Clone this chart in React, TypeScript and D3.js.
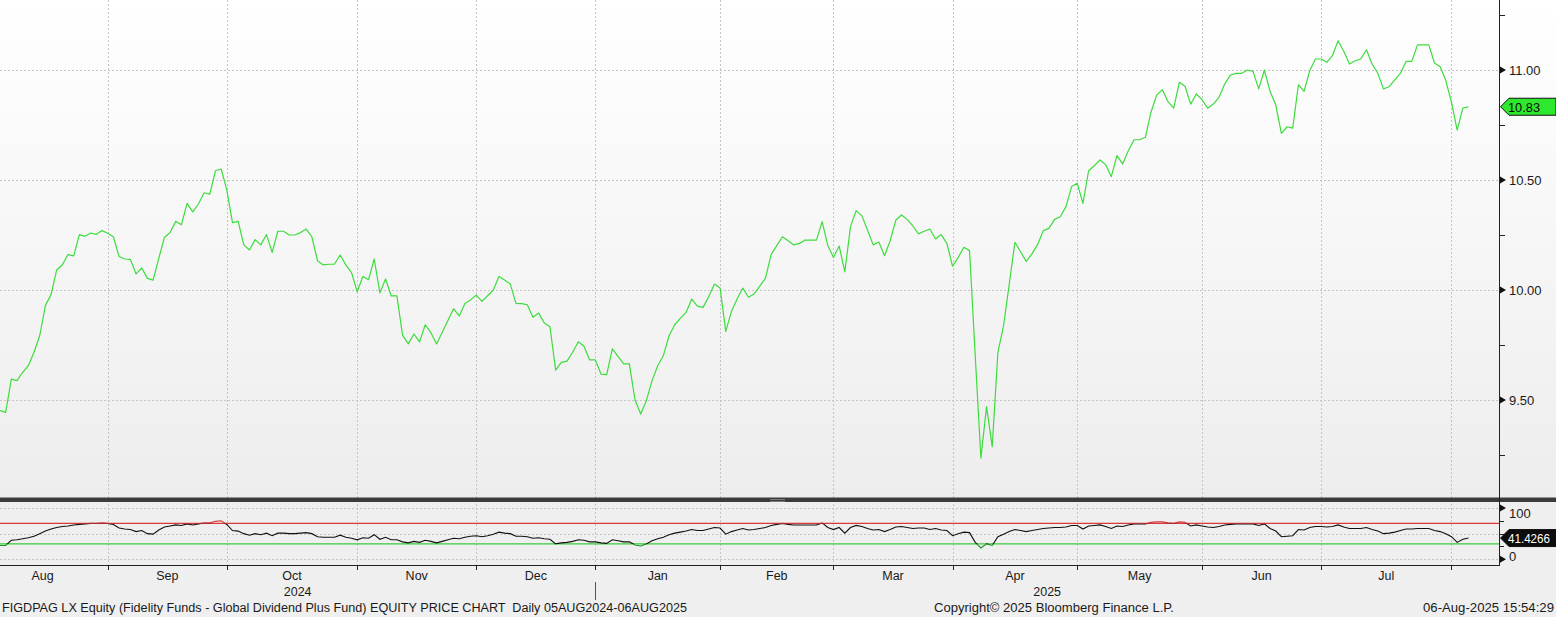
import React, { useRef, useEffect } from "react";
import * as d3 from "d3";

// daily NAV (05 Aug 2024 - 06 Aug 2025)
const prices = [
  9.452, 9.444, 9.595, 9.588, 9.626, 9.656, 9.717, 9.792, 9.929, 9.979,
  10.091, 10.115, 10.161, 10.155, 10.252, 10.244, 10.259, 10.253, 10.27, 10.258,
  10.242, 10.152, 10.141, 10.139, 10.073, 10.1, 10.053, 10.045, 10.144, 10.239,
  10.261, 10.312, 10.297, 10.394, 10.355, 10.391, 10.442, 10.436, 10.542, 10.55,
  10.455, 10.306, 10.312, 10.205, 10.182, 10.229, 10.205, 10.252, 10.171, 10.267,
  10.267, 10.25, 10.25, 10.261, 10.277, 10.242, 10.133, 10.114, 10.117, 10.118,
  10.159, 10.114, 10.079, 9.992, 10.061, 10.047, 10.141, 9.987, 10.05, 9.973,
  9.973, 9.795, 9.755, 9.8, 9.764, 9.842, 9.806, 9.755, 9.808, 9.861,
  9.915, 9.882, 9.939, 9.955, 9.977, 9.948, 9.974, 10.0, 10.061, 10.045,
  10.027, 9.939, 9.938, 9.933, 9.876, 9.895, 9.85, 9.833, 9.636, 9.671,
  9.677, 9.717, 9.765, 9.744, 9.682, 9.682, 9.618, 9.615, 9.732, 9.698,
  9.664, 9.664, 9.5, 9.436, 9.497, 9.588, 9.656, 9.702, 9.792, 9.842,
  9.871, 9.898, 9.959, 9.927, 9.921, 9.97, 10.027, 10.009, 9.812, 9.902,
  9.959, 10.009, 9.967, 9.982, 10.018, 10.053, 10.161, 10.202, 10.242, 10.224,
  10.205, 10.212, 10.227, 10.227, 10.227, 10.311, 10.202, 10.148, 10.2, 10.082,
  10.288, 10.361, 10.338, 10.273, 10.205, 10.218, 10.156, 10.224, 10.318, 10.341,
  10.321, 10.291, 10.255, 10.267, 10.277, 10.232, 10.252, 10.212, 10.108, 10.148,
  10.194, 10.179, 9.702, 9.236, 9.47, 9.288, 9.717, 9.838, 10.027, 10.217,
  10.174, 10.13, 10.164, 10.206, 10.27, 10.28, 10.321, 10.333, 10.379, 10.47,
  10.485, 10.394, 10.542, 10.565, 10.591, 10.57, 10.515, 10.611, 10.573, 10.633,
  10.683, 10.683, 10.694, 10.808, 10.886, 10.911, 10.856, 10.827, 10.944, 10.926,
  10.845, 10.891, 10.865, 10.826, 10.845, 10.876, 10.936, 10.977, 10.985, 10.985,
  11.0, 10.994, 10.914, 11.0, 10.903, 10.842, 10.712, 10.742, 10.736, 10.933,
  10.903, 10.997, 11.05, 11.05, 11.035, 11.065, 11.133, 11.085, 11.027, 11.042,
  11.05, 11.092, 11.027, 10.985, 10.914, 10.924, 10.955, 10.985, 11.039, 11.039,
  11.114, 11.114, 11.114, 11.032, 11.015, 10.952, 10.853, 10.727, 10.827, 10.833,
];

// RSI, lower panel
const rsi = [
  27, 27, 37, 38, 40, 42, 45, 50, 55, 59,
  62, 64, 65, 67, 68, 69, 70, 70, 71, 70,
  68, 61, 59, 58, 54, 56, 50, 49, 57, 63,
  65, 67, 66, 69, 67, 69, 71, 71, 74, 75,
  68, 56, 55, 50, 47, 50, 48, 51, 46, 51,
  51, 50, 50, 51, 52, 50, 44, 43, 43, 43,
  47, 43, 41, 38, 42, 41, 48, 39, 43, 38,
  38, 34, 32, 35, 33, 37, 35, 32, 35, 38,
  41, 40, 43, 45, 46, 44, 46, 49, 53, 51,
  50, 45, 45, 44, 41, 42, 40, 39, 30, 32,
  33, 35, 38, 37, 34, 34, 32, 31, 38, 36,
  34, 34, 28, 26, 30, 36, 40, 43, 48, 51,
  53, 55, 58, 56, 56, 59, 62, 61, 49, 54,
  57, 60, 57, 58, 60, 62, 66, 68, 70, 68,
  67, 67, 67, 67, 67, 71, 62, 58, 62, 51,
  62, 66, 64, 60, 57, 58, 54, 58, 63, 64,
  62, 60, 61, 61, 58, 60, 57, 56, 46, 50,
  53, 52, 33, 22, 30, 27, 44, 49, 54, 58,
  56, 54, 56, 58, 60, 61, 62, 62, 63, 66,
  66, 59, 65, 66, 67, 64, 60, 65, 64, 67,
  69, 69, 69, 72, 73, 73, 71, 70, 73, 72,
  65, 67, 65, 63, 62, 64, 67, 68, 69, 69,
  69, 69, 66, 69, 60, 55, 44, 45, 46, 58,
  57, 62, 64, 64, 63, 64, 67, 63, 60, 60,
  60, 62, 58, 55, 50, 51, 53, 56, 59, 59,
  60, 60, 60, 56, 54, 50, 44, 33, 39, 41.4266,
];

// index of first trading day of each month (Aug 2024 ... Aug 2025)
const monthStarts = [-4, 19, 40, 63, 84, 105, 127, 147, 168, 190, 212, 233, 256];
const monthLabels = ["Aug", "Sep", "Oct", "Nov", "Dec", "Jan", "Feb", "Mar", "Apr", "May", "Jun", "Jul"];
const yearStarts = [0, 105];
const yearLabels = ["2024", "2025"];

const priceTicks = [9.5, 10, 10.5, 11];
const priceMinorTicks = [9.25, 9.75, 10.25, 10.75, 11.25];
const rsiTicks = [0, 100];
const rsiMinorTicks = [25, 50, 75];
const rsiGrid = [0, 50, 100];
const rsiHigh = 70;
const rsiLow = 30;

const lastPriceLabel = "10.83";
const lastRsiLabel = "41.4266";
const footerLeft =
  "FIGDPAG LX Equity (Fidelity Funds - Global Dividend Plus Fund) EQUITY PRICE CHART  Daily 05AUG2024-06AUG2025";
const footerMid = "Copyright\u00a9 2025 Bloomberg Finance L.P.";
const footerRight = "06-Aug-2025 15:54:29";

const W = 1556;
const H = 617;
const FONT = "'Liberation Sans', Arial, sans-serif";

const PriceChart: React.FC = () => {
  const ref = useRef<SVGSVGElement | null>(null);

  useEffect(() => {
    if (!ref.current) return;
    const svg = d3.select(ref.current);
    svg.selectAll("*").remove();
    svg.attr("width", W).attr("height", H).attr("viewBox", `0 0 ${W} ${H}`);

    const axisX = 1499;
    const mainBottom = 497.5;
    const subTop = 502;
    const subBottom = 565;

    const x = d3.scaleLinear().domain([0, prices.length - 1]).range([0, 1468.5]);
    const y = d3.scaleLinear().domain([9.5, 11]).range([400, 70]);
    const yR = d3.scaleLinear().domain([0, 100]).range([559.3, 508]);

    const defs = svg.append("defs");
    const grad = defs
      .append("linearGradient")
      .attr("id", "bg")
      .attr("x1", 0)
      .attr("y1", 0)
      .attr("x2", 0)
      .attr("y2", 1);
    grad.append("stop").attr("offset", "0%").attr("stop-color", "#ffffff");
    grad.append("stop").attr("offset", "100%").attr("stop-color", "#ededed");

    const clip = (id: string, y0: number, y1: number) =>
      defs
        .append("clipPath")
        .attr("id", id)
        .append("rect")
        .attr("x", 0)
        .attr("y", y0)
        .attr("width", axisX)
        .attr("height", y1 - y0);
    clip("mainClip", 0, mainBottom);
    clip("rsiHi", subTop, yR(rsiHigh));
    clip("rsiMid", yR(rsiHigh), yR(rsiLow));
    clip("rsiLo", yR(rsiLow), subBottom);

    // backgrounds
    svg.append("rect").attr("width", W).attr("height", H).attr("fill", "#efefef");
    svg.append("rect").attr("width", W).attr("height", mainBottom).attr("fill", "url(#bg)");

    const grid = "#c4c4c4";

    // horizontal grid, main panel
    svg
      .append("g")
      .selectAll("line")
      .data(priceTicks)
      .join("line")
      .attr("x1", 0)
      .attr("x2", axisX)
      .attr("y1", (d) => Math.round(y(d)) + 0.5)
      .attr("y2", (d) => Math.round(y(d)) + 0.5)
      .attr("stroke", grid)
      .attr("stroke-dasharray", "2,2");

    // horizontal grid, rsi panel
    svg
      .append("g")
      .selectAll("line")
      .data(rsiGrid)
      .join("line")
      .attr("x1", 0)
      .attr("x2", axisX)
      .attr("y1", (d) => Math.round(yR(d)) + 0.5)
      .attr("y2", (d) => Math.round(yR(d)) + 0.5)
      .attr("stroke", grid)
      .attr("stroke-dasharray", "2,2");

    // vertical grid at month boundaries
    const bounds = monthStarts.filter((d) => x(d) > 0 && x(d) < axisX);
    svg
      .append("g")
      .selectAll("line")
      .data(bounds)
      .join("line")
      .attr("x1", (d) => Math.round(x(d)) + 0.5)
      .attr("x2", (d) => Math.round(x(d)) + 0.5)
      .attr("y1", 0)
      .attr("y2", subBottom)
      .attr("stroke", grid)
      .attr("stroke-dasharray", "2,2");

    // price line
    const line = d3
      .line<number>()
      .x((_, i) => x(i))
      .y((d) => y(d));
    svg
      .append("path")
      .datum(prices)
      .attr("clip-path", "url(#mainClip)")
      .attr("fill", "none")
      .attr("stroke", "#3ddc3d")
      .attr("stroke-width", 1.2)
      .attr("stroke-linejoin", "round")
      .attr("d", line);

    // rsi bands
    svg
      .append("line")
      .attr("x1", 0)
      .attr("x2", axisX)
      .attr("y1", yR(rsiHigh))
      .attr("y2", yR(rsiHigh))
      .attr("stroke", "#d63a3a")
      .attr("stroke-width", 1.3);
    svg
      .append("line")
      .attr("x1", 0)
      .attr("x2", axisX)
      .attr("y1", yR(rsiLow))
      .attr("y2", yR(rsiLow))
      .attr("stroke", "#3acb3a")
      .attr("stroke-width", 1.3);

    const rLine = d3
      .line<number>()
      .x((_, i) => x(i))
      .y((d) => yR(d));
    const rsiParts: [string, string][] = [
      ["rsiMid", "#111111"],
      ["rsiHi", "#d63a3a"],
      ["rsiLo", "#1f8f1f"],
    ];
    rsiParts.forEach(([id, color]) => {
      svg
        .append("path")
        .datum(rsi)
        .attr("clip-path", `url(#${id})`)
        .attr("fill", "none")
        .attr("stroke", color)
        .attr("stroke-width", 1.1)
        .attr("d", rLine);
    });

    // divider bar between panels
    svg
      .append("rect")
      .attr("x", 0)
      .attr("y", mainBottom)
      .attr("width", W)
      .attr("height", subTop - mainBottom)
      .attr("fill", "#3b3b3b");
    [499.5, 501.5].forEach((yy) =>
      svg
        .append("line")
        .attr("x1", 770)
        .attr("x2", 785)
        .attr("y1", yy)
        .attr("y2", yy)
        .attr("stroke", "#8a8a8a")
        .attr("stroke-width", 0.8)
    );

    // right axis
    svg
      .append("line")
      .attr("x1", axisX + 0.5)
      .attr("x2", axisX + 0.5)
      .attr("y1", 0)
      .attr("y2", subBottom)
      .attr("stroke", "#222");

    const tri = (yy: number) => `M${axisX + 1},${yy - 3.5}L${axisX + 7},${yy}L${axisX + 1},${yy + 3.5}Z`;
    const axisText = (yy: number, t: string) =>
      svg
        .append("text")
        .attr("x", 1509)
        .attr("y", yy)
        .attr("font-family", FONT)
        .attr("font-size", 13)
        .attr("fill", "#1a1a1a")
        .text(t);

    priceTicks.forEach((d) => {
      svg.append("path").attr("d", tri(y(d))).attr("fill", "#111");
      axisText(y(d) + 4.5, d3.format(".2f")(d));
    });
    priceMinorTicks.forEach((d) => {
      svg
        .append("line")
        .attr("x1", axisX + 1)
        .attr("x2", axisX + 6)
        .attr("y1", Math.round(y(d)) + 0.5)
        .attr("y2", Math.round(y(d)) + 0.5)
        .attr("stroke", "#222");
    });
    rsiTicks.forEach((d) => {
      svg.append("path").attr("d", tri(yR(d))).attr("fill", "#111");
      // labels are nudged inside the small panel
      axisText(d === 100 ? yR(d) + 9.5 : yR(d) + 2, String(d));
    });
    rsiMinorTicks.forEach((d) => {
      svg
        .append("line")
        .attr("x1", axisX + 1)
        .attr("x2", axisX + 5)
        .attr("y1", Math.round(yR(d)) + 0.5)
        .attr("y2", Math.round(yR(d)) + 0.5)
        .attr("stroke", "#222");
    });

    // last value tags
    const tag = (yy: number, t: string, fill: string, color: string, len: number) => {
      svg
        .append("path")
        .attr(
          "d",
          `M${axisX + 1.5},${yy}L${axisX + 10},${yy - 8.5}L${W},${yy - 8.5}L${W},${yy + 8.5}L${axisX + 10},${yy + 8.5}Z`
        )
        .attr("fill", fill)
        .attr("stroke", "#111")
        .attr("stroke-width", 1);
      svg
        .append("text")
        .attr("x", 1508)
        .attr("y", yy + 5)
        .attr("font-family", FONT)
        .attr("font-size", 13)
        .attr("fill", color)
        .attr("textLength", len)
        .attr("lengthAdjust", "spacingAndGlyphs")
        .text(t);
    };
    tag(y(prices[prices.length - 1]), lastPriceLabel, "#2ee82e", "#0a0a0a", 32);
    tag(yR(rsi[rsi.length - 1]), lastRsiLabel, "#0d0d0d", "#ffffff", 42);

    // bottom axis
    svg
      .append("line")
      .attr("x1", 0)
      .attr("x2", axisX + 1)
      .attr("y1", subBottom + 0.5)
      .attr("y2", subBottom + 0.5)
      .attr("stroke", "#222");
    svg
      .append("g")
      .selectAll("line")
      .data(bounds)
      .join("line")
      .attr("x1", (d) => Math.round(x(d)) + 0.5)
      .attr("x2", (d) => Math.round(x(d)) + 0.5)
      .attr("y1", subBottom)
      .attr("y2", subBottom + 5)
      .attr("stroke", "#222");

    svg
      .append("g")
      .selectAll("text")
      .data(monthLabels)
      .join("text")
      .attr("x", (_, i) => (x(monthStarts[i]) + x(monthStarts[i + 1])) / 2)
      .attr("y", 580)
      .attr("text-anchor", "middle")
      .attr("font-family", FONT)
      .attr("font-size", 12.5)
      .attr("fill", "#1a1a1a")
      .text((d) => d);

    const yearEnds = [...yearStarts.slice(1).map((d) => x(d)), axisX];
    svg
      .append("g")
      .selectAll("text")
      .data(yearLabels)
      .join("text")
      .attr("x", (_, i) => (x(yearStarts[i]) + yearEnds[i]) / 2)
      .attr("y", 596)
      .attr("text-anchor", "middle")
      .attr("font-family", FONT)
      .attr("font-size", 12.5)
      .attr("fill", "#1a1a1a")
      .text((d) => d);
    yearStarts.slice(1).forEach((d) => {
      svg
        .append("line")
        .attr("x1", Math.round(x(d)) + 0.5)
        .attr("x2", Math.round(x(d)) + 0.5)
        .attr("y1", 582)
        .attr("y2", 600)
        .attr("stroke", "#555");
    });

    // footer
    const foot = (xx: number, t: string, anchor: string, len: number) =>
      svg
        .append("text")
        .attr("x", xx)
        .attr("y", 612)
        .attr("text-anchor", anchor)
        .attr("font-family", FONT)
        .attr("font-size", 12.5)
        .attr("fill", "#1a1a1a")
        .attr("textLength", len)
        .attr("lengthAdjust", "spacingAndGlyphs")
        .style("white-space", "pre")
        .text(t);
    foot(2, footerLeft, "start", 685);
    foot(934, footerMid, "start", 240);
    foot(1554, footerRight, "end", 131);
  }, []);

  return <svg ref={ref} style={{ display: "block" }} />;
};

export default function App() {
  return (
    <>
      <style>{`body{margin:0;}`}</style>
      <PriceChart />
    </>
  );
}
